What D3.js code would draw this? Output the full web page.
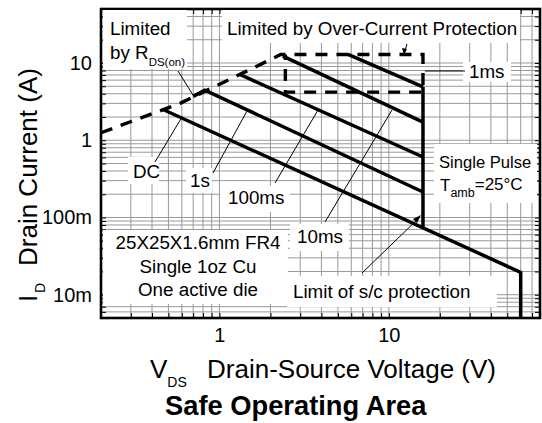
<!DOCTYPE html>
<html>
<head>
<meta charset="utf-8">
<script src="https://cdn.jsdelivr.net/npm/d3@7"></script>
<style>
  body { margin: 0; background: #fff; }
  svg { display: block; font-family: "Liberation Sans", Arial, Helvetica, sans-serif; }
</style>
</head>
<body>
<div id="chart"></div>
<script>
// ---- data (VDS in volts, ID in amps) ----
const xLabelTicks = [1, 10];
const xTickLabels = ['1', '10'];
const yLabelTicks = [0.01, 0.1, 1, 10];
const yTickLabels = ['10m', '100m', '1', '10'];

const xGrid = [0.3, 0.4, 0.5, 0.6, 0.7, 0.8, 0.9, 1, 2, 3, 4, 5, 6, 7, 8, 9, 10, 20, 30, 40, 50, 60, 70];
const yGrid = [0.006, 0.007, 0.008, 0.009, 0.01, 0.02, 0.03, 0.04, 0.05, 0.06, 0.07, 0.08, 0.09,
               0.1, 0.2, 0.3, 0.4, 0.5, 0.6, 0.7, 0.8, 0.9, 1, 2, 3, 4, 5, 6, 7, 8, 9, 10, 20, 30, 40];

// dashed: RDS(on) limit, then over-current protection box
const rdsLimit = [[0.2, 1.25], [0.585, 3.0], [1.58, 8.6], [2.3, 12.9], [15.9, 12.9], [15.9, 4.2], [2.45, 4.2], [2.45, 12.9]];
// solid curves
const curveDC = [[0.465, 2.5], [60, 0.0195], [60, 0.005]];
const curve1s = [[0.70, 3.7], [0.82, 4.45], [15.9, 0.214]];
const curve100ms = [[1.32, 7.1], [15.9, 0.607]];
const curve10ms = [[2.37, 12.3], [15.9, 1.72]];
const curve1ms = [[5.74, 12.9], [15.9, 4.9]];
const scLimit = [[15.9, 4.9], [15.9, 0.073]];

// ---- layout ----
const W = 542, H = 423;
const margin = {top: 9, right: 2, bottom: 105, left: 101};
const width = W - margin.left - margin.right;
const height = H - margin.top - margin.bottom;

const svg = d3.select('#chart').append('svg')
    .attr('width', W)
    .attr('height', H);

const g = svg.append('g')
    .attr('transform', 'translate(' + margin.left + ',' + margin.top + ')');

const x = d3.scaleLog().domain([0.2, 78]).range([0, width]);
const y = d3.scaleLog().domain([0.005, 50]).range([height, 0]);

// grid
g.append('g').selectAll('line').data(xGrid).join('line')
    .attr('x1', d => x(d)).attr('x2', d => x(d))
    .attr('y1', 0).attr('y2', height)
    .attr('stroke', '#999').attr('stroke-width', 1);
g.append('g').selectAll('line').data(yGrid).join('line')
    .attr('y1', d => y(d)).attr('y2', d => y(d))
    .attr('x1', 0).attr('x2', width)
    .attr('stroke', '#999').attr('stroke-width', 1);

// white label boxes (in page pixels)
const boxes = [
  [103, 10, 84, 59],     // Limited by RDS(on)
  [222, 10, 298, 33],    // over-current
  [463, 62, 48, 20],     // 1ms
  [434, 144, 103, 59],   // single pulse
  [128, 157, 31, 27],    // DC
  [186, 168, 26, 25],    // 1s
  [220, 186, 70, 26],    // 100ms
  [290, 224, 59, 27],    // 10ms
  [287, 276, 210, 31],   // s/c
  [103, 230, 185, 74]    // FR4
];
svg.append('g').selectAll('rect').data(boxes).join('rect')
    .attr('x', d => d[0]).attr('y', d => d[1])
    .attr('width', d => d[2]).attr('height', d => d[3])
    .attr('fill', '#fff');

// axes: inward ticks on all sides
const tickFont = 20;
const fmtX = d => { const i = xLabelTicks.indexOf(d); return i < 0 ? '' : xTickLabels[i]; };
const fmtY = d => { const i = yLabelTicks.indexOf(d); return i < 0 ? '' : yTickLabels[i]; };

const xAxis = g.append('g').attr('transform', 'translate(0,' + height + ')')
    .call(d3.axisBottom(x).tickValues(xGrid).tickSizeInner(-5).tickSizeOuter(0).tickPadding(10).tickFormat(fmtX));
const xAxisTop = g.append('g')
    .call(d3.axisTop(x).tickValues(xGrid).tickSizeInner(-5).tickSizeOuter(0).tickFormat(''));
const yAxis = g.append('g')
    .call(d3.axisLeft(y).tickValues(yGrid).tickSizeInner(-5).tickSizeOuter(0).tickPadding(9).tickFormat(fmtY));
const yAxisRight = g.append('g').attr('transform', 'translate(' + width + ',0)')
    .call(d3.axisRight(y).tickValues(yGrid).tickSizeInner(-5).tickSizeOuter(0).tickFormat(''));

[xAxis, xAxisTop, yAxis, yAxisRight].forEach(a => {
  a.select('.domain').remove();
  a.selectAll('text').attr('font-size', tickFont).attr('font-family', null).attr('fill', '#000');
});

g.append('rect')
    .attr('width', width).attr('height', height)
    .attr('fill', 'none').attr('stroke', '#000').attr('stroke-width', 2.6);

// curves
const line = d3.line().x(d => x(d[0])).y(d => y(d[1]));

g.append('path').datum(rdsLimit)
    .attr('d', line).attr('fill', 'none')
    .attr('stroke', '#000').attr('stroke-width', 3.4)
    .attr('stroke-dasharray', '12,9');

[curveDC, curve1s, curve100ms, curve10ms, curve1ms, scLimit].forEach(c => {
  g.append('path').datum(c)
      .attr('d', line).attr('fill', 'none')
      .attr('stroke', '#000').attr('stroke-width', 3.5)
      .attr('stroke-linejoin', 'miter');
});

// pointer lines (page pixels)
const pointers = [
  [178, 71, 193, 95],
  [407, 44, 404, 54],
  [425, 71, 465, 71],
  [155, 162, 182, 117],
  [213, 173, 247, 111],
  [275, 183, 318, 110],
  [325, 222, 392, 110],
  [362, 273, 420, 217]
];
svg.append('g').selectAll('line').data(pointers).join('line')
    .attr('x1', d => d[0]).attr('y1', d => d[1])
    .attr('x2', d => d[2]).attr('y2', d => d[3])
    .attr('stroke', '#000').attr('stroke-width', 1);

// small arrow heads
svg.append('path').attr('d', 'M421,215 L413,219 L417,223 Z').attr('fill', '#000');
svg.append('path').attr('d', 'M404,55 L402,48 L407,49 Z').attr('fill', '#000');

// annotation text
const ann = svg.append('g').attr('font-size', 18.8).attr('fill', '#000');
const label = (tx, ty, s, anchor) => ann.append('text')
    .attr('x', tx).attr('y', ty).attr('text-anchor', anchor || 'start').text(s);

label(110, 35, 'Limited');
const by = ann.append('text').attr('x', 110).attr('y', 59);
by.append('tspan').text('by R');
by.append('tspan').attr('font-size', 11.5).attr('dy', 7).text('DS(on)');

label(227, 35, 'Limited by Over-Current Protection');
label(469, 78, '1ms');
label(439, 168, 'Single Pulse').attr('font-size', 16.6);
const t = ann.append('text').attr('x', 440).attr('y', 191).attr('font-size', 17);
t.append('tspan').text('T');
t.append('tspan').attr('font-size', 12.5).attr('dy', 6).text('amb');
t.append('tspan').attr('dy', -7).text('=25°C');

label(133, 178, 'DC');
label(190, 187, '1s');
label(228, 204, '100ms');
label(297, 243, '10ms');
label(293, 298, 'Limit of s/c protection');
label(198, 249, '25X25X1.6mm FR4', 'middle');
label(198, 273, 'Single 1oz Cu', 'middle');
label(198, 296, 'One active die', 'middle');

// axis titles
const xt = svg.append('text').attr('y', 378).attr('font-size', 26);
xt.append('tspan').attr('x', 150).text('V');
xt.append('tspan').attr('font-size', 14).attr('dy', 9).text('DS');
xt.append('tspan').attr('x', 207).attr('dy', -9).text('Drain-Source Voltage (V)');

const yt = svg.append('text').attr('transform', 'rotate(-90)').attr('y', 37).attr('font-size', 26);
yt.append('tspan').attr('x', -302).text('I');
yt.append('tspan').attr('font-size', 14).attr('dy', 8).attr('x', -293).text('D');
yt.append('tspan').attr('x', -266).attr('dy', -8).text('Drain Current (A)');

svg.append('text')
    .attr('x', 165).attr('y', 415)
    .attr('font-size', 27.3).attr('font-weight', 'bold')
    .text('Safe Operating Area');
</script>
</body>
</html>
